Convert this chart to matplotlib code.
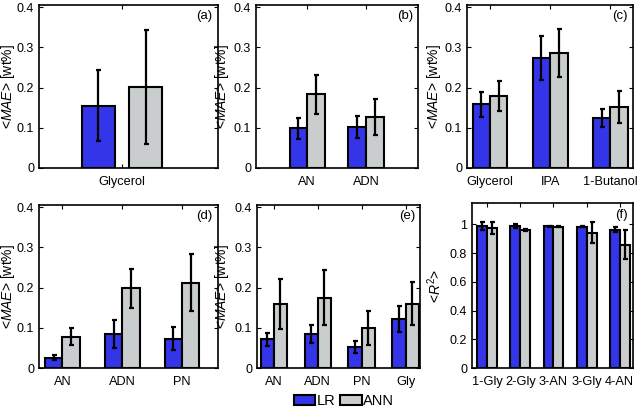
import matplotlib
matplotlib.use('Agg')
import matplotlib.pyplot as plt
from matplotlib.patches import Patch
import numpy as np

plt.rcParams['font.family'] = ['Liberation Sans', 'DejaVu Sans']
plt.rcParams['mathtext.fontset'] = 'custom'
plt.rcParams['mathtext.rm'] = 'Liberation Sans'
plt.rcParams['mathtext.it'] = 'Liberation Sans:italic'
plt.rcParams['font.size'] = 9

# ---------------- data ----------------
a_cats = ['Glycerol']
a_lr = [0.155]
a_lr_err = [0.088]
a_ann = [0.202]
a_ann_err = [0.142]

b_cats = ['AN', 'ADN']
b_lr = [0.099, 0.102]
b_lr_err = [0.026, 0.027]
b_ann = [0.183, 0.127]
b_ann_err = [0.049, 0.045]

c_cats = ['Glycerol', 'IPA', '1-Butanol']
c_lr = [0.158, 0.273, 0.125]
c_lr_err = [0.031, 0.055, 0.022]
c_ann = [0.179, 0.285, 0.152]
c_ann_err = [0.037, 0.060, 0.040]

d_cats = ['AN', 'ADN', 'PN']
d_lr = [0.026, 0.084, 0.073]
d_lr_err = [0.007, 0.035, 0.029]
d_ann = [0.078, 0.198, 0.212]
d_ann_err = [0.022, 0.048, 0.071]

e_cats = ['AN', 'ADN', 'PN', 'Gly']
e_lr = [0.071, 0.085, 0.052, 0.122]
e_lr_err = [0.017, 0.022, 0.014, 0.033]
e_ann = [0.158, 0.175, 0.100, 0.160]
e_ann_err = [0.062, 0.068, 0.042, 0.054]

f_cats = ['1-Gly', '2-Gly', '3-AN', '3-Gly', '4-AN']
f_lr = [0.988, 0.988, 0.985, 0.983, 0.963]
f_lr_err = [0.029, 0.012, 0.004, 0.003, 0.016]
f_ann = [0.974, 0.963, 0.984, 0.942, 0.859]
f_ann_err = [0.040, 0.007, 0.004, 0.075, 0.098]

mae_ticks = [0, 0.1, 0.2, 0.3, 0.4]
mae_ticklabels = ['0', '0.1', '0.2', '0.3', '0.4']
r2_ticks = [0, 0.2, 0.4, 0.6, 0.8, 1]
r2_ticklabels = ['0', '0.2', '0.4', '0.6', '0.8', '1']

series_names = ['LR', 'ANN']
panel_labels = ['(a)', '(b)', '(c)', '(d)', '(e)', '(f)']

# ---------------- style ----------------
BLUE = '#3434e8'
GREY = '#c9cdcd'
W, H = 640, 411
fig = plt.figure(figsize=(W / 100, H / 100), dpi=100)


def add_ax(x0, y0, x1, y1):
    return fig.add_axes([x0 / W, 1 - y1 / H, (x1 - x0) / W, (y1 - y0) / H])


def draw(ax, box, cats, lr, lr_err, ann, ann_err, xlim, off, width, ylim,
         ticks, ticklabels, ylabel, label_dx, plabel):
    x = np.arange(1, len(cats) + 1)
    ekw = dict(ecolor='black', elinewidth=1.6, capsize=1.8, capthick=1.6)
    ax.bar(x - off, lr, width, color=BLUE, edgecolor='black', linewidth=1.5,
           yerr=lr_err, error_kw=ekw, zorder=2)
    ax.bar(x + off, ann, width, color=GREY, edgecolor='black', linewidth=1.5,
           yerr=ann_err, error_kw=ekw, zorder=2)
    ax.set_xlim(*xlim)
    ax.set_ylim(*ylim)
    ax.set_xticks(x)
    ax.set_xticklabels(cats)
    ax.set_yticks(ticks)
    ax.set_yticklabels(ticklabels, fontsize=9)
    ax.tick_params(axis='x', labelsize=9.2)
    ax.tick_params(direction='in', top=True, right=True, length=3,
                   width=0.8, pad=3.5)
    ax.tick_params(axis='x', pad=6)
    for s in ax.spines.values():
        s.set_linewidth(1.2)
    x0, y0, x1, y1 = box
    fig.text((x0 + label_dx) / W, 1 - ((y0 + y1) / 2) / H, ylabel,
             rotation=90, ha='center', va='center', fontsize=10)
    ax.text(0.97, 0.93, plabel, transform=ax.transAxes, ha='right',
            va='center', fontsize=9.5)


mae_label = r'<$\mathit{MAE}$> [wt%]'
r2_label = r'<$R^2$>'
ylim_mae = (0, 0.405)

box = (39, 5, 218, 168)
draw(add_ax(*box), box, a_cats, a_lr, a_lr_err, a_ann, a_ann_err,
     (0.537, 1.537), 0.132, 0.187, ylim_mae, mae_ticks, mae_ticklabels,
     mae_label, -31, panel_labels[0])

box = (256, 5, 418, 168)
draw(add_ax(*box), box, b_cats, b_lr, b_lr_err, b_ann, b_ann_err,
     (0.13, 2.88), 0.15, 0.3, ylim_mae, mae_ticks, mae_ticklabels,
     mae_label, -34, panel_labels[1])

box = (467, 5, 633, 168)
draw(add_ax(*box), box, c_cats, c_lr, c_lr_err, c_ann, c_ann_err,
     (0.617, 3.378), 0.145, 0.29, ylim_mae, mae_ticks, mae_ticklabels,
     mae_label, -33, panel_labels[2])

box = (39, 205, 218, 368)
draw(add_ax(*box), box, d_cats, d_lr, d_lr_err, d_ann, d_ann_err,
     (0.61, 3.6), 0.145, 0.29, ylim_mae, mae_ticks, mae_ticklabels,
     mae_label, -31, panel_labels[3])

box = (257, 205, 420, 368)
draw(add_ax(*box), box, e_cats, e_lr, e_lr_err, e_ann, e_ann_err,
     (0.615, 4.33), 0.15, 0.3, ylim_mae, mae_ticks, mae_ticklabels,
     mae_label, -35, panel_labels[4])

box = (472, 203, 633, 368)
draw(add_ax(*box), box, f_cats, f_lr, f_lr_err, f_ann, f_ann_err,
     (0.54, 5.4), 0.15, 0.3, (0, 1.148), r2_ticks, r2_ticklabels,
     r2_label, -37, panel_labels[5])

handles = [Patch(facecolor=BLUE, edgecolor='black', linewidth=1.5),
           Patch(facecolor=GREY, edgecolor='black', linewidth=1.5)]
fig.legend(handles, series_names, loc='center', ncol=2, frameon=False,
           bbox_to_anchor=(344 / W, 1 - 401 / H), handlelength=1.5,
           handleheight=0.75, handletextpad=0.1, columnspacing=0.3,
           fontsize=10.5, borderpad=0)

fig.savefig('out.png', dpi=100)
